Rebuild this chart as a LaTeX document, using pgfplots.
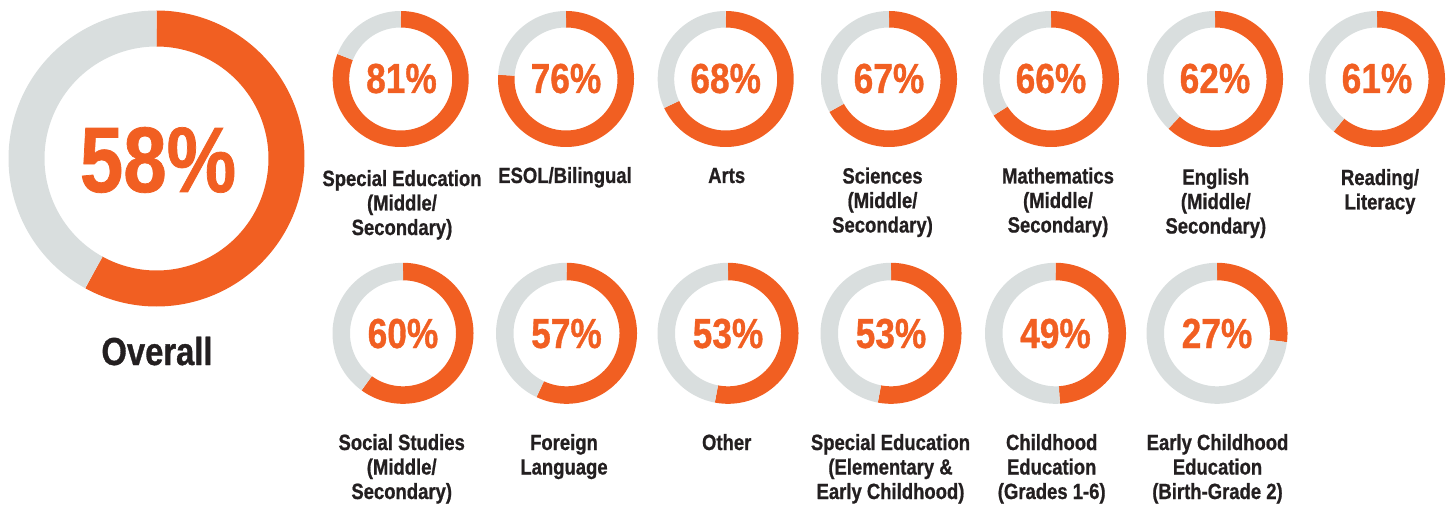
\documentclass[border=0pt]{standalone}
\usepackage{pgfplots}
\pgfplotsset{compat=1.18}
\usepackage{fontspec}
\setmainfont{Liberation Sans}[FakeStretch=0.84, BoldFeatures={FakeBold=0.8}]
\definecolor{orng}{HTML}{F15F22}
\definecolor{ringgray}{HTML}{D9DEDE}
\definecolor{txt}{HTML}{231F20}
% cx, cy, mid radius, ring width, value (percent)
\newcommand{\donut}[5]{%
  \addplot[orng, line width=#4pt, domain=0:#5, samples=160, no marks] ({#1+#3*sin(3.6*x)},{#2-#3*cos(3.6*x)});
  \addplot[ringgray, line width=#4pt, domain=#5:100, samples=160, no marks] ({#1+#3*sin(3.6*x)},{#2-#3*cos(3.6*x)});
}
\newcommand{\pct}[3]{\node[anchor=base, text=orng, font=\bfseries\fontsize{42}{42}\selectfont, inner sep=0pt] at (axis cs:#1,#2) {#3\%};}
% x, baseline of LAST line, text
\newcommand{\lab}[3]{\node[anchor=base, text=txt, align=center, font=\bfseries\fontsize{22}{24.5}\selectfont, inner sep=0pt] at (axis cs:#1,#2) {#3};}
\begin{document}
\begin{tikzpicture}
\begin{axis}[
  width=1453pt, height=505pt, scale only axis,
  xmin=0, xmax=1453, ymin=0, ymax=505, y dir=reverse,
  hide axis, clip=false, enlargelimits=false]
\path (axis cs:0,0) rectangle (axis cs:1453,505);
% Overall
\donut{156.5}{158.5}{130}{36}{58}
\node[anchor=base, text=orng, font=\bfseries\fontsize{93}{93}\selectfont, inner sep=0pt] at (axis cs:158,192) {58\%};
\node[anchor=base, text=txt, font=\bfseries\fontsize{39}{39}\selectfont, inner sep=0pt] at (axis cs:157,365) {Overall};
% Row 1
\donut{400.7}{79}{59.75}{16.5}{81}
\donut{566}{79}{59.75}{16.5}{76}
\donut{725.7}{79}{59.75}{16.5}{68}
\donut{889}{79}{59.75}{16.5}{67}
\donut{1051}{79}{59.75}{16.5}{66}
\donut{1215}{79}{59.75}{16.5}{62}
\donut{1377}{79}{59.75}{16.5}{61}
\pct{401.5}{93}{81}
\pct{566}{93}{76}
\pct{725.7}{93}{68}
\pct{889}{93}{67}
\pct{1051}{93}{66}
\pct{1215}{93}{62}
\pct{1377}{93}{61}
\lab{402}{235}{Special Education\\(Middle/\\Secondary)}
\lab{565}{183}{ESOL/Bilingual}
\lab{726.7}{183}{Arts}
\lab{882.5}{232.5}{Sciences\\(Middle/\\Secondary)}
\lab{1058}{232.5}{Mathematics\\(Middle/\\Secondary)}
\lab{1215.8}{233.5}{English\\(Middle/\\Secondary)}
\lab{1380}{209.5}{Reading/\\Literacy}
% Row 2
\donut{403}{333.3}{61.75}{17.5}{60}
\donut{566.5}{333.3}{61.75}{17.5}{57}
\donut{728}{333.3}{61.75}{17.5}{53}
\donut{891}{333.3}{61.75}{17.5}{53}
\donut{1055.5}{333.3}{61.75}{17.5}{49}
\donut{1217}{333.3}{61.75}{17.5}{27}
\pct{403}{348}{60}
\pct{566.5}{348}{57}
\pct{728}{348}{53}
\pct{891}{348}{53}
\pct{1055.5}{348}{49}
\pct{1217}{348}{27}
\lab{401.7}{499}{Social Studies\\(Middle/\\Secondary)}
\lab{564}{474.5}{Foreign\\Language}
\lab{726.7}{450}{Other}
\lab{890.5}{499}{Special Education\\(Elementary \&\\Early Childhood)}
\lab{1051.7}{499}{Childhood\\Education\\(Grades 1-6)}
\lab{1217.5}{499}{Early Childhood\\Education\\(Birth-Grade 2)}
\end{axis}
\end{tikzpicture}
\end{document}
